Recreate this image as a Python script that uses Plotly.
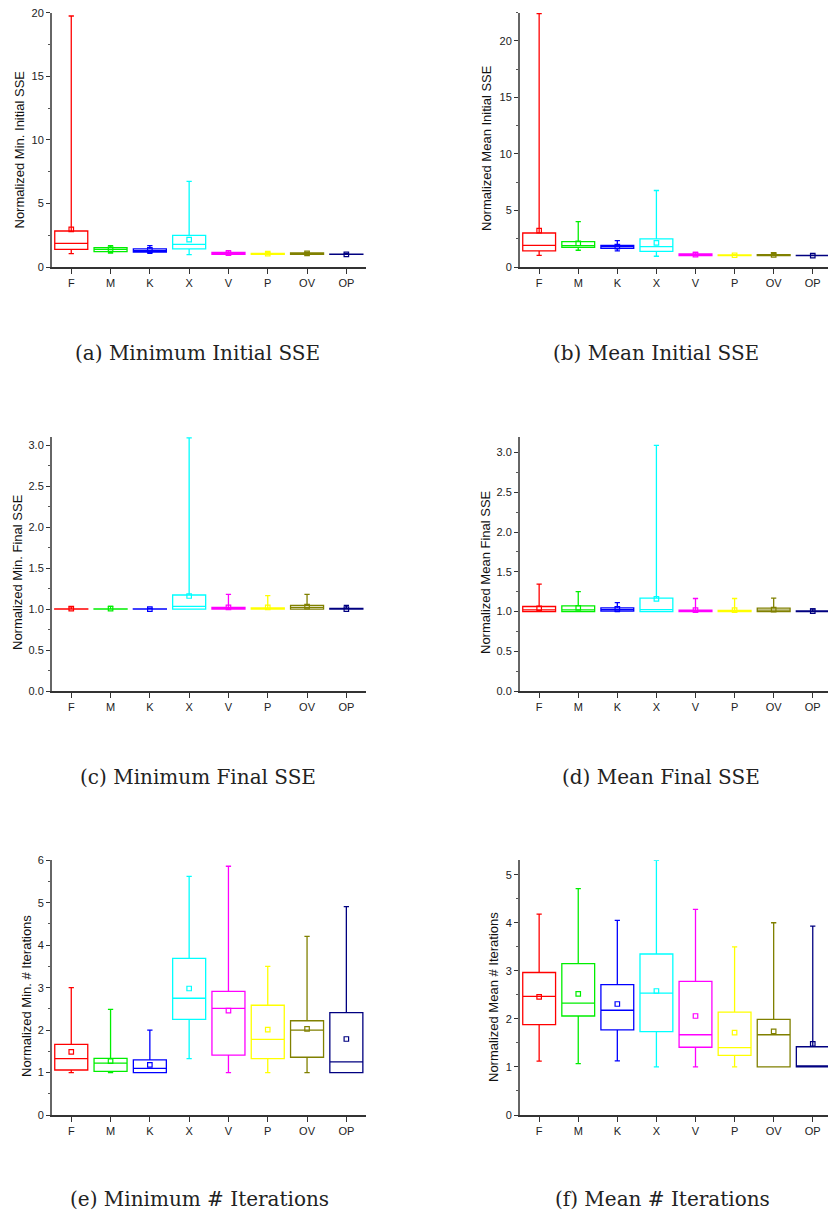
import plotly.graph_objects as go

categories = ["F", "M", "K", "X", "V", "P", "OV", "OP"]
colors = ["#FF0000", "#00EE00", "#0000FF", "#00FFFF", "#FF00FF", "#FFFF00", "#808000", "#000080"]

# (a) Minimum Initial SSE
a_low = [1.05, 1.10, 1.07, 0.97, 1.00, 1.00, 1.00, 1.00]
a_q1 = [1.39, 1.21, 1.18, 1.42, 1.00, 1.00, 1.00, 1.00]
a_med = [1.86, 1.39, 1.28, 1.78, 1.07, 1.02, 1.05, 1.00]
a_q3 = [2.83, 1.52, 1.42, 2.49, 1.15, 1.06, 1.10, 1.02]
a_high = [19.74, 1.68, 1.68, 6.74, 1.28, 1.13, 1.15, 1.05]
a_mean = [2.96, 1.40, 1.34, 2.15, 1.08, 1.05, 1.07, 1.00]

# (b) Mean Initial SSE
b_low = [1.03, 1.48, 1.42, 0.95, 1.00, 1.00, 1.00, 1.00]
b_q1 = [1.42, 1.74, 1.65, 1.39, 1.00, 1.00, 1.00, 1.00]
b_med = [1.92, 1.89, 1.80, 1.80, 1.10, 1.03, 1.05, 1.00]
b_q3 = [3.01, 2.25, 1.92, 2.48, 1.17, 1.06, 1.09, 1.02]
b_high = [22.42, 4.02, 2.33, 6.77, 1.30, 1.12, 1.18, 1.04]
b_mean = [3.22, 2.10, 1.80, 2.13, 1.10, 1.04, 1.07, 1.00]

# (c) Minimum Final SSE
c_low = [1.00, 1.00, 1.00, 1.00, 1.00, 1.00, 1.00, 1.00]
c_q1 = [1.00, 1.00, 1.00, 1.00, 1.00, 1.00, 1.00, 1.00]
c_med = [1.00, 1.00, 1.00, 1.034, 1.00, 1.00, 1.02, 1.00]
c_q3 = [1.003, 1.003, 1.002, 1.172, 1.02, 1.015, 1.046, 1.01]
c_high = [1.026, 1.034, 1.009, 3.09, 1.18, 1.164, 1.18, 1.046]
c_mean = [1.005, 1.005, 1.00, 1.16, 1.02, 1.02, 1.03, 1.00]

# (d) Mean Final SSE
d_low = [1.00, 1.00, 1.00, 1.00, 1.00, 1.00, 1.00, 1.00]
d_q1 = [1.00, 1.00, 1.004, 1.00, 1.00, 1.00, 1.00, 1.00]
d_med = [1.02, 1.02, 1.025, 1.025, 1.00, 1.00, 1.017, 1.00]
d_q3 = [1.063, 1.07, 1.046, 1.168, 1.017, 1.013, 1.042, 1.008]
d_high = [1.345, 1.25, 1.113, 3.09, 1.164, 1.164, 1.168, 1.034]
d_mean = [1.04, 1.046, 1.034, 1.16, 1.017, 1.017, 1.025, 1.004]

# (e) Minimum # Iterations
e_low = [1.00, 1.00, 1.00, 1.33, 1.00, 1.00, 1.00, 1.00]
e_q1 = [1.06, 1.03, 1.00, 2.255, 1.41, 1.33, 1.36, 1.00]
e_med = [1.33, 1.22, 1.10, 2.75, 2.51, 1.78, 2.00, 1.25]
e_q3 = [1.665, 1.335, 1.30, 3.69, 2.91, 2.585, 2.22, 2.41]
e_high = [3.00, 2.49, 2.00, 5.62, 5.86, 3.50, 4.21, 4.91]
e_mean = [1.485, 1.27, 1.18, 2.98, 2.46, 2.01, 2.03, 1.79]

# (f) Mean # Iterations
f_low = [1.12, 1.07, 1.125, 1.00, 1.00, 1.00, 1.00, 1.00]
f_q1 = [1.88, 2.06, 1.77, 1.736, 1.41, 1.24, 1.00, 1.00]
f_med = [2.47, 2.33, 2.18, 2.535, 1.67, 1.40, 1.67, 1.00]
f_q3 = [2.965, 3.15, 2.715, 3.35, 2.78, 2.14, 1.99, 1.42]
f_high = [4.18, 4.71, 4.05, 5.30, 4.28, 3.50, 4.00, 3.93]
f_mean = [2.46, 2.52, 2.31, 2.58, 2.06, 1.715, 1.74, 1.48]

panels = [
    ("x", "y", (a_low, a_q1, a_med, a_q3, a_high, a_mean)),
    ("x2", "y2", (b_low, b_q1, b_med, b_q3, b_high, b_mean)),
    ("x3", "y3", (c_low, c_q1, c_med, c_q3, c_high, c_mean)),
    ("x4", "y4", (d_low, d_q1, d_med, d_q3, d_high, d_mean)),
    ("x5", "y5", (e_low, e_q1, e_med, e_q3, e_high, e_mean)),
    ("x6", "y6", (f_low, f_q1, f_med, f_q3, f_high, f_mean)),
]

y_titles = [
    "Normalized Min. Initial SSE",
    "Normalized Mean Initial SSE",
    "Normalized Min. Final SSE",
    "Normalized Mean Final SSE",
    "Normalized Min. # Iterations",
    "Normalized Mean # Iterations",
]
y_ranges = [[0, 20], [0, 22.5], [0, 3.105], [0, 3.2], [0, 6], [0, 5.3]]
y_dticks = [5, 5, 0.5, 0.5, 1, 1]
y_formats = ["d", "d", ".1f", ".1f", "d", "d"]
captions = [
    "(a) Minimum Initial SSE",
    "(b) Mean Initial SSE",
    "(c) Minimum Final SSE",
    "(d) Mean Final SSE",
    "(e) Minimum # Iterations",
    "(f) Mean # Iterations",
]

W, H = 828, 1218
left_dom = [52 / W, 366 / W]
right_dom = [520 / W, 1.0]
row_doms = [
    [1 - 267 / H, 1 - 12.7 / H],
    [1 - 691 / H, 1 - 436.7 / H],
    [1 - 1115 / H, 1 - 860.3 / H],
]
caption_pos = [(197, 353), (656, 353), (198, 777), (661, 777), (199, 1199), (662, 1199)]
ytitle_pos = [(19.5, 150), (487, 148), (17, 572), (485, 572), (26, 996), (493, 997)]

fig = go.Figure()
xs = list(range(len(categories)))

for p, (xa, ya, (lo, q1, med, q3, hi, mn)) in enumerate(panels):
    for i, cat in enumerate(categories):
        fig.add_trace(go.Box(
            x=[xs[i]], q1=[q1[i]], median=[med[i]], q3=[q3[i]],
            lowerfence=[lo[i]], upperfence=[hi[i]],
            width=0.84, whiskerwidth=0.16,
            line=dict(color=colors[i], width=1.3),
            fillcolor="rgba(255,255,255,0)",
            boxpoints=False, showlegend=False, hoverinfo="skip",
            xaxis=xa, yaxis=ya,
        ))
        fig.add_trace(go.Scatter(
            x=[xs[i]], y=[mn[i]], mode="markers",
            marker=dict(symbol="square-open", size=4.5, color=colors[i], line=dict(width=1.2, color=colors[i])),
            showlegend=False, hoverinfo="skip", xaxis=xa, yaxis=ya,
        ))

tick_font = dict(family="Liberation Sans, Arial, sans-serif", size=11, color="#222")
layout = dict(
    width=W, height=H, margin=dict(l=0, r=0, t=0, b=0, autoexpand=False),
    paper_bgcolor="white", plot_bgcolor="white", boxmode="overlay",
    showlegend=False,
)
for p in range(6):
    r, c = p // 2, p % 2
    sfx = "" if p == 0 else str(p + 1)
    xr = [-0.49, 7.5] if c == 0 else [-0.49, 7.39]
    layout["xaxis" + sfx] = dict(
        domain=left_dom if c == 0 else right_dom,
        anchor="y" + sfx, range=xr, automargin=False,
        tickmode="array", tickvals=xs, ticktext=categories,
        ticks="outside", ticklen=5, tickcolor="#333", tickwidth=1,
        showline=True, linecolor="#333", linewidth=1.5,
        showgrid=False, zeroline=False, tickfont=tick_font,
    )
    layout["yaxis" + sfx] = dict(
        domain=row_doms[r], anchor="x" + sfx, range=y_ranges[p], automargin=False,
        dtick=y_dticks[p], tick0=0, tickformat=y_formats[p],
        ticks="outside", ticklen=4, tickcolor="#333", tickwidth=1,
        minor=dict(dtick=y_dticks[p] / 2, ticks="outside", ticklen=2, tickcolor="#555"),
        showline=True, linecolor="#666", linewidth=2,
        showgrid=False, zeroline=False, tickfont=tick_font,
    )

fig.update_layout(**layout)

for p, txt in enumerate(y_titles):
    tx, ty = ytitle_pos[p]
    fig.add_annotation(
        text=txt, xref="paper", yref="paper", x=tx / W, y=1 - ty / H,
        xanchor="center", yanchor="middle", showarrow=False, textangle=-90,
        font=dict(family="Liberation Sans, Arial, sans-serif", size=13, color="#111"),
    )

for p, txt in enumerate(captions):
    cx, cy = caption_pos[p]
    fig.add_annotation(
        text=txt, xref="paper", yref="paper", x=cx / W, y=1 - cy / H,
        xanchor="center", yanchor="middle", showarrow=False,
        font=dict(family="DejaVu Serif, serif", size=20, color="#222"),
    )

fig.write_html(
    "out.html",
    config={"displayModeBar": False},
    post_script="document.body.style.margin='0';document.body.style.overflow='hidden';",
)
